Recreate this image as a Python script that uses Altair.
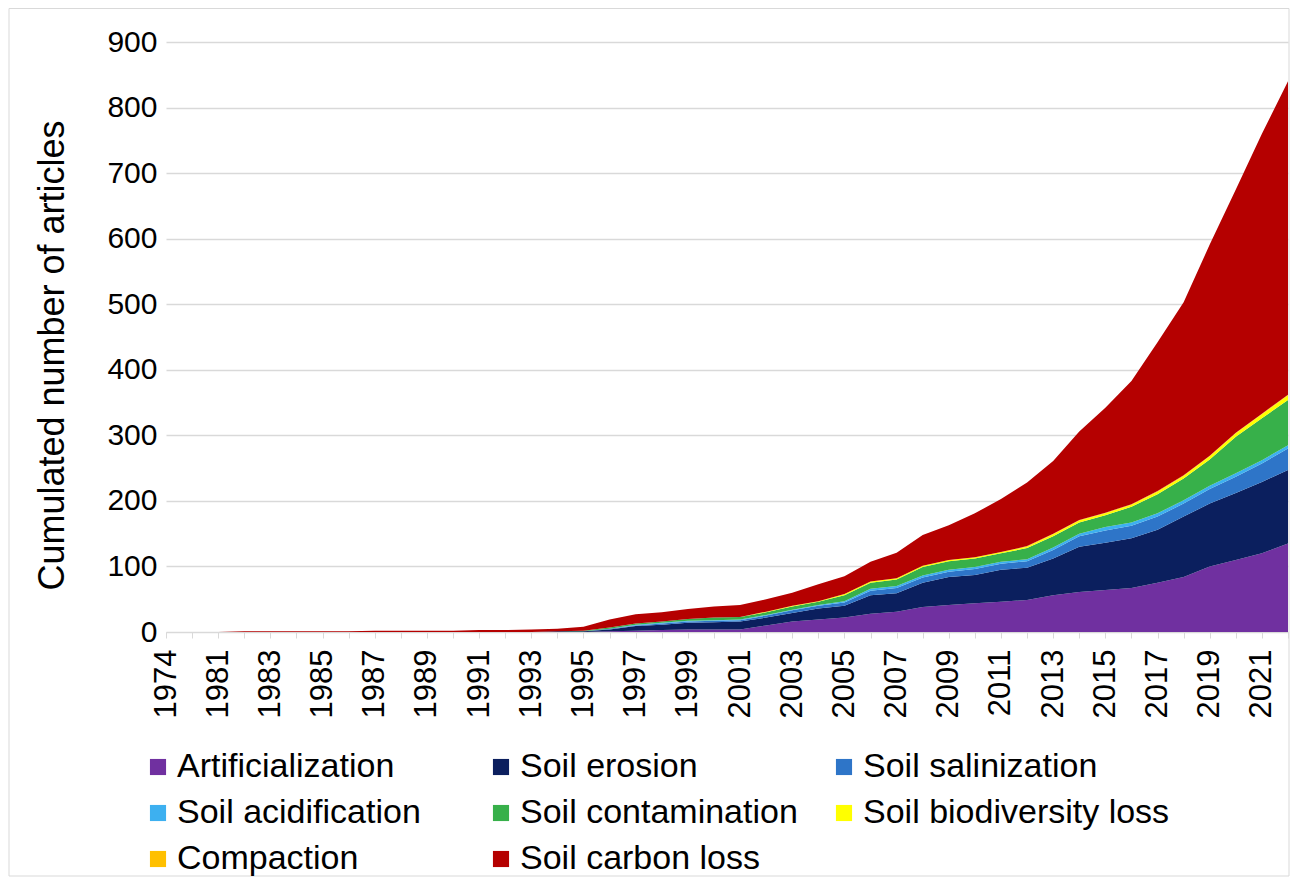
import json
import altair as alt
import pandas as pd

years = ["1974", "1980", "1981", "1982", "1983", "1984", "1985", "1986", "1987", "1988",
         "1989", "1990", "1991", "1992", "1993", "1994", "1995", "1996", "1997", "1998",
         "1999", "2000", "2001", "2002", "2003", "2004", "2005", "2006", "2007", "2008",
         "2009", "2010", "2011", "2012", "2013", "2014", "2015", "2016", "2017", "2018",
         "2019", "2020", "2021", "2022"]

series_names = ["Artificialization", "Soil erosion", "Soil salinization", "Soil acidification",
                "Soil contamination", "Soil biodiversity loss", "Compaction", "Soil carbon loss"]
series_colors = ["#7030A0", "#0B1F5E", "#2E75C8", "#3DB0F0", "#37B04A", "#FFFF00", "#FFC000", "#B50000"]

artificialization = [0, 0, 0, 0, 0, 0, 0, 0, 0, 0, 0, 0, 0, 0, 0, 0,
                     0, 1, 2, 3, 4, 4, 4, 10, 16, 19, 22, 28, 31, 38, 41, 44, 46, 49, 56, 61,
                     64, 67, 75, 84, 100, 110, 120, 135]
erosion = [0, 0, 0, 0, 0, 0, 0, 0, 0, 0, 0, 0, 0, 0, 0, 1,
           1, 3, 7, 8, 10, 11, 12, 12, 13, 17, 18, 28, 28, 37, 43, 43, 49, 49, 56, 69,
           72, 76, 81, 92, 96, 102, 109, 112]
salinization = [0, 0, 0, 0, 0, 0, 0, 0, 0, 0, 0, 0, 0, 0, 0, 0,
                0, 1, 1, 2, 2, 2, 2, 3, 4, 4, 5, 7, 8, 8, 8, 9, 9, 10, 13, 16,
                19, 19, 20, 20, 22, 25, 28, 33]
acidification = [0, 0, 0, 0, 0, 0, 0, 0, 0, 0, 0, 0, 0, 0, 0, 0,
                  0, 0, 1, 1, 1, 1, 1, 1, 1, 1, 2, 3, 3, 3, 3, 3, 3, 3, 4, 4,
                  5, 5, 5, 5, 5, 5, 5, 5]
contamination = [0, 0, 0, 0, 0, 0, 0, 0, 0, 0, 0, 0, 0, 0, 0, 0,
                  1, 2, 2, 2, 3, 4, 4, 4, 5, 5, 9, 9, 10, 13, 13, 13, 13, 17, 17, 17,
                  18, 24, 29, 33, 40, 56, 64, 69]
biodiversity = [0, 0, 0, 0, 0, 0, 0, 0, 0, 0, 0, 0, 0, 0, 0, 0,
                0, 0, 0, 0, 0, 0, 0, 1, 1, 1, 2, 2, 2, 2, 2, 2, 2, 2, 3, 3,
                3, 3, 4, 4, 5, 5, 6, 7]
compaction = [0, 0, 0, 0, 0, 0, 0, 0, 0, 0, 0, 0, 0, 0, 0, 0,
              0, 0, 0, 0, 0, 0, 0, 0, 0, 0, 0, 0, 0, 0, 0, 0, 0, 1, 1, 1,
              1, 1, 1, 1, 1, 1, 1, 1]
carbon = [0, 0, 0, 1, 1, 1, 1, 1, 2, 2, 2, 2, 3, 3, 4, 4,
          6, 12, 14, 14, 15, 17, 18, 19, 20, 26, 27, 30, 39, 47, 53, 67, 81, 97, 111, 135,
          160, 188, 227, 264, 322, 371, 427, 478]

y_ticks = [0, 100, 200, 300, 400, 500, 600, 700, 800, 900]

all_series = [artificialization, erosion, salinization, acidification,
              contamination, biodiversity, compaction, carbon]

rows = []
for k, (name, vals) in enumerate(zip(series_names, all_series)):
    for yr, v in zip(years, vals):
        rows.append({"year": yr, "series": name, "value": v, "ord": k})
df = pd.DataFrame(rows)

labeled = years[0::2]
label_expr = "indexof(" + json.dumps(labeled) + ", datum.value) >= 0 ? datum.label : ''"

FONT = "Liberation Sans"

area = alt.Chart(df).mark_area(interpolate="linear").encode(
    x=alt.X("year:O", sort=years, scale=alt.Scale(type="point", padding=0),
            axis=alt.Axis(title=None, labelAngle=-90, labelExpr=label_expr,
                          labelFontSize=31, labelFont=FONT, labelColor="#000000",
                          labelPadding=11, labelOverlap=False, tickSize=6,
                          tickColor="#D9D9D9", domainColor="#D9D9D9", grid=False)),
    y=alt.Y("value:Q", stack="zero", scale=alt.Scale(domain=[0, 900], nice=False),
            axis=alt.Axis(title="Cumulated number of articles", values=y_ticks,
                          labelFontSize=30, labelFont=FONT, labelColor="#000000",
                          labelPadding=9, ticks=False, domain=False,
                          gridColor="#D9D9D9", gridWidth=1.5,
                          titleFontSize=36, titleFont=FONT, titleFontWeight="normal",
                          titleColor="#000000", titleX=-114, titleY=313,
                          titleAngle=270, titleAlign="center", titleBaseline="middle")),
    color=alt.Color("series:N", scale=alt.Scale(domain=series_names, range=series_colors),
                    legend=alt.Legend(title=None, orient="none", legendX=-25, legendY=708,
                                      direction="horizontal",
                                      columns=3, gridAlign="all", columnPadding=-3,
                                      rowPadding=12, symbolType="square", symbolSize=260,
                                      symbolStrokeWidth=0, labelFontSize=34, labelFont=FONT,
                                      labelColor="#000000", labelLimit=600, labelOffset=2,
                                      padding=0)),
    order=alt.Order("ord:Q", sort="ascending"),
)

border = alt.Chart(pd.DataFrame({"a": [0]})).mark_rect(filled=False, stroke="#D9D9D9", strokeWidth=1).encode(
    x=alt.value(-157), x2=alt.value(1123), y=alt.value(-33.5), y2=alt.value(834)
)

chart = alt.layer(border, area).properties(
    width=1122, height=590,
    autosize=alt.AutoSizeParams(type="none"),
    padding={"left": 158, "top": 34, "right": 2, "bottom": 245},
    background="#FFFFFF",
).configure_view(stroke=None)

chart.save("out.html", embed_options={"renderer": "svg", "actions": False})
